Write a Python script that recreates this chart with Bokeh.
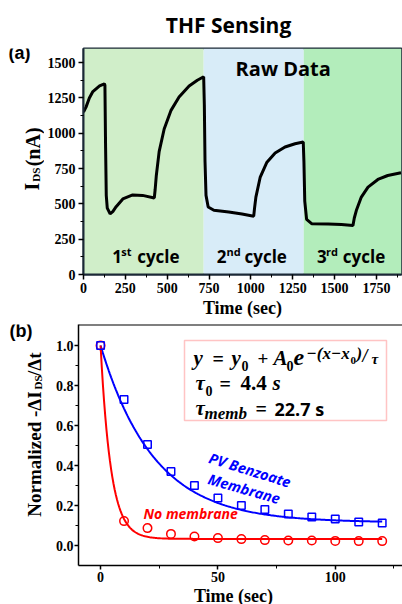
import numpy as np
from bokeh.plotting import figure
from bokeh.models import Label, Span, Range1d, FixedTicker, PrintfTickFormatter, BoxAnnotation
from bokeh.layouts import column, row
from bokeh.embed import file_html
from bokeh.resources import INLINE

# ---------------- data: panel (a) raw data ----------------
raw_time = [0, 15, 35, 56, 96, 125, 128, 132, 136, 142, 159, 175, 195, 235, 294, 353, 423,
            428, 435, 452, 482, 522, 571, 631, 680, 718,
            722, 726, 732, 745, 779, 868, 947, 1017,
            1022, 1030, 1056, 1096, 1145, 1204, 1264, 1313,
            1317, 1322, 1333, 1363, 1462, 1541, 1610,
            1618, 1630, 1660, 1700, 1759, 1818, 1897]
raw_ids = [1150, 1185, 1250, 1295, 1335, 1350, 1340, 900, 560, 470, 430, 445, 480, 535, 563, 560, 542,
           600, 700, 870, 1030, 1160, 1256, 1335, 1375, 1400,
           1200, 800, 560, 478, 455, 442, 428, 413,
           470, 548, 690, 795, 860, 903, 926, 938,
           800, 520, 390, 360, 358, 354, 347,
           400, 453, 548, 619, 673, 701, 720]
band_start = [0, 718, 1316]
band_end = [718, 1316, 1900]
band_colors = ["#d0eec9", "#d8ecf8", "#b3edbb"]
cycle_main = ["1", "2", "3"]
cycle_sup = ["st", "nd", "rd"]
a_xticks = [0, 250, 500, 750, 1000, 1250, 1500, 1750]
a_yticks = [0, 250, 500, 750, 1000, 1250, 1500]

# ---------------- data: panel (b) normalized rates ----------------
time_b = [0, 10, 20, 30, 40, 50, 60, 70, 80, 90, 100, 110, 120]
membrane = [1.0, 0.73, 0.505, 0.37, 0.30, 0.238, 0.20, 0.18, 0.157, 0.142, 0.133, 0.118, 0.112]
no_membrane = [1.0, 0.122, 0.087, 0.058, 0.045, 0.037, 0.032, 0.027, 0.025, 0.025, 0.023, 0.022, 0.022]
tau_memb, y0_memb, A0_memb = 22.7, 0.115, 0.885
tau_0, y0_none, A0_none = 4.4, 0.033, 0.967
b_xticks = [0, 50, 100]
b_yticks = [0.0, 0.2, 0.4, 0.6, 0.8, 1.0]

SERIF = "Liberation Serif"
SANS = "Open Sans"
W = 402
MID = 0.35  # em-middle above the baseline, as a fraction of font size

def lab(p, x, y, text, size, font=SANS, style="bold", color="black", angle=0, align="left"):
    p.add_layout(Label(x=x, y=y, text=text, text_font=font, text_font_size=f"{size}px",
                       text_font_style=style, text_color=color, angle=angle,
                       text_align=align, text_baseline="middle"))

def strip(width, top, bottom):
    """A text-only canvas whose data coordinates equal page pixels."""
    s = figure(width=width, height=bottom - top, x_range=Range1d(0, width),
               y_range=Range1d(bottom, top), x_axis_location=None, y_axis_location=None,
               output_backend="svg", toolbar_location=None, min_border=0,
               min_border_left=0, min_border_right=0, min_border_top=0, min_border_bottom=0)
    s.outline_line_color = None
    s.grid.visible = False
    return s

def style_axis(ax, tick_out, standoff):
    ax.major_tick_line_color = "black"
    ax.minor_tick_line_color = "black"
    ax.major_tick_line_width = 1.5
    ax.minor_tick_line_width = 1
    ax.major_tick_out = tick_out
    ax.major_tick_in = 0
    ax.minor_tick_out = 3
    ax.minor_tick_in = 0
    ax.major_label_text_font = SERIF
    ax.major_label_text_font_style = "bold"
    ax.major_label_text_font_size = "14px"
    ax.major_label_text_color = "black"
    ax.major_label_standoff = standoff
    ax.axis_label_text_font = SERIF
    ax.axis_label_text_font_style = "bold"
    ax.axis_label_text_font_size = "18px"
    ax.axis_label_text_color = "black"

# ---------------- title strip ----------------
t_strip = strip(W, 0, 40)
lab(t_strip, 228, 32 - MID * 21, "THF Sensing", 21, align="center")

# ---------------- panel (a) ----------------
AX0, AX1, AY0, AY1 = 0, 1900, 0, 1600
a_left = strip(44, 40, 320)
lab(a_left, 8, 46, "(a)", 18, font="Liberation Sans")
lab(a_left, 31, 216, "I", 20, font=SERIF, angle=np.pi / 2)
lab(a_left, 35.5, 205, "DS", 11, font=SERIF, angle=np.pi / 2)
lab(a_left, 32, 186, "(nA)", 20, font=SERIF, angle=np.pi / 2)

p1 = figure(width=W - 44, height=280, x_range=Range1d(AX0, AX1), y_range=Range1d(AY0, AY1),
            output_backend="svg", toolbar_location=None,
            min_border_left=37, min_border_right=1, min_border_top=8, min_border_bottom=46)
def pa(px, py):  # page pixel -> data (frame x 81..401, y 48..274)
    return (AX0 + (px - 81) / 320 * (AX1 - AX0), AY0 + (274 - py) / 226 * (AY1 - AY0))
def lab_a(px, base, text, size, **kw):
    x, y = pa(px, base - MID * size)
    lab(p1, x, y, text, size, **kw)

p1.quad(left=band_start, right=band_end, bottom=AY0, top=AY1, fill_color=band_colors, line_color=None)
p1.line(raw_time, raw_ids, line_color="black", line_width=3)
p1.grid.visible = False
p1.outline_line_color = "#1b2836"
p1.outline_line_width = 2
for ax, ticks in ((p1.xaxis[0], a_xticks), (p1.yaxis[0], a_yticks)):
    ax.ticker = FixedTicker(ticks=ticks, minor_ticks=[t + 125 for t in ticks])
    ax.axis_line_color = "#1b2836"
    ax.axis_line_width = 2
    style_axis(ax, 5, 3)
p1.xaxis[0].axis_label = "Time (sec)"
p1.xaxis[0].axis_label_standoff = 2

lab_a(282, 75, "Raw Data", 20, align="center")
cyc_px = [(110, 119, 135), (215, 225, 243), (316, 325, 342)]
for (m, s, c), mtxt, stxt in zip(cyc_px, cycle_main, cycle_sup):
    lab_a(m, 262, mtxt, 17)
    lab_a(s, 255, stxt, 11)
    lab_a(c, 262, "cycle", 17)

# ---------------- panel (b) ----------------
BX0, BX1, BY0, BY1 = -9.4, 128.65, -0.1, 1.105
b_left = strip(44, 320, 587)
lab(b_left, 9, 327, "(b)", 18, font="Liberation Sans")
lab(b_left, 33.5, 533, "Normalized -ΔI", 19, font=SERIF, angle=np.pi / 2)
lab(b_left, 37.5, 392, "DS", 11, font=SERIF, angle=np.pi / 2)
lab(b_left, 33.5, 377, "/Δt", 19, font=SERIF, angle=np.pi / 2)

p2 = figure(width=W - 44, height=267, x_range=Range1d(BX0, BX1), y_range=Range1d(BY0, BY1),
            output_backend="svg", toolbar_location=None,
            min_border_left=34, min_border_right=0, min_border_top=4, min_border_bottom=22)
def pb(px, py):  # page pixel -> data (frame x 78..402, y 324..565)
    return (BX0 + (px - 78) / 324 * (BX1 - BX0), BY0 + (565 - py) / 241 * (BY1 - BY0))
def lab_b(px, base, text, size, **kw):
    x, y = pb(px, base - MID * size)
    lab(p2, x, y, text, size, **kw)

xf = np.linspace(0, 120, 241)
p2.line(xf, y0_memb + A0_memb * np.exp(-xf / tau_memb), line_color="#0000ff", line_width=2)
p2.line(xf, y0_none + A0_none * np.exp(-xf / tau_0), line_color="#ff0000", line_width=2)
p2.scatter(time_b, no_membrane, marker="circle", size=8.5, fill_color=None,
           line_color="#ff0000", line_width=1.5)
p2.scatter(time_b, membrane, marker="square", size=7.5, fill_color=None,
           line_color="#0000ff", line_width=1.5)
p2.grid.visible = False
p2.outline_line_color = None
p2.add_layout(Span(location=BY1, dimension="width", line_color="black", line_width=2))
p2.xaxis[0].ticker = FixedTicker(ticks=b_xticks, minor_ticks=[t + 25 for t in b_xticks])
p2.yaxis[0].ticker = FixedTicker(ticks=b_yticks, minor_ticks=[round(t + 0.1, 2) for t in b_yticks[:-1]])
p2.yaxis[0].formatter = PrintfTickFormatter(format="%.1f")
for ax in (p2.xaxis[0], p2.yaxis[0]):
    ax.axis_line_color = "black"
    ax.axis_line_width = 1.5
style_axis(p2.xaxis[0], 4, 2)
style_axis(p2.yaxis[0], 4, 1)

# bottom strip holding the x-axis title of panel (b)
b_bottom = strip(W, 587, 604)
lab(b_bottom, 233, 595, "Time (sec)", 18, font=SERIF, align="center")

# fit formula box
l, t = pb(184, 340); r, b = pb(386, 420)
p2.add_layout(BoxAnnotation(left=l, right=r, top=t, bottom=b, fill_color="white", fill_alpha=1,
                            line_color="#ff3b3b", line_width=1.5))
BI = "bold italic"
tokens = [(193, 365, "y", 21, BI), (212, 365, "=", 20, "bold"), (231, 365, "y", 21, BI),
          (241, 370, "0", 14, "bold"), (257, 365, "+", 19, "bold"), (273, 365, "A", 21, BI),
          (286, 370, "0", 14, "bold"), (293, 365, "e", 24, BI),
          (306, 359, "−(x−x", 17, BI), (350, 364, "0", 11, "bold"), (356, 359, ")", 17, BI),
          (362, 362, "/", 18, BI), (371, 364, "τ", 15, BI),
          (195, 390, "τ", 21, BI), (205, 395, "0", 14, "bold"), (219, 390, "=", 20, "bold"),
          (240, 390, "4.4", 21, "bold"), (272, 390, "s", 21, BI),
          (195, 415, "τ", 21, BI), (204, 419, "memb", 17, BI), (255, 415, "=", 20, "bold")]
for px, base, txt, sz, st in tokens:
    lab_b(px, base, txt, sz, font=SERIF, style=st)
lab_b(274, 415, "22.7 s", 18)

# curve annotations
x, y = pb(209, 457); lab(p2, x, y, "PV Benzoate", 14.5, style=BI, color="#0000ff", angle=-0.30)
x, y = pb(208, 478); lab(p2, x, y, "Membrane", 14.5, style=BI, color="#0000ff", angle=-0.28)
lab_b(143, 518, "No membrane", 14, style=BI, color="#ff0000")

layout = column(t_strip, row(a_left, p1, spacing=0), row(b_left, p2, spacing=0), b_bottom,
                spacing=0)
open("out.html", "w").write(file_html(layout, INLINE))
